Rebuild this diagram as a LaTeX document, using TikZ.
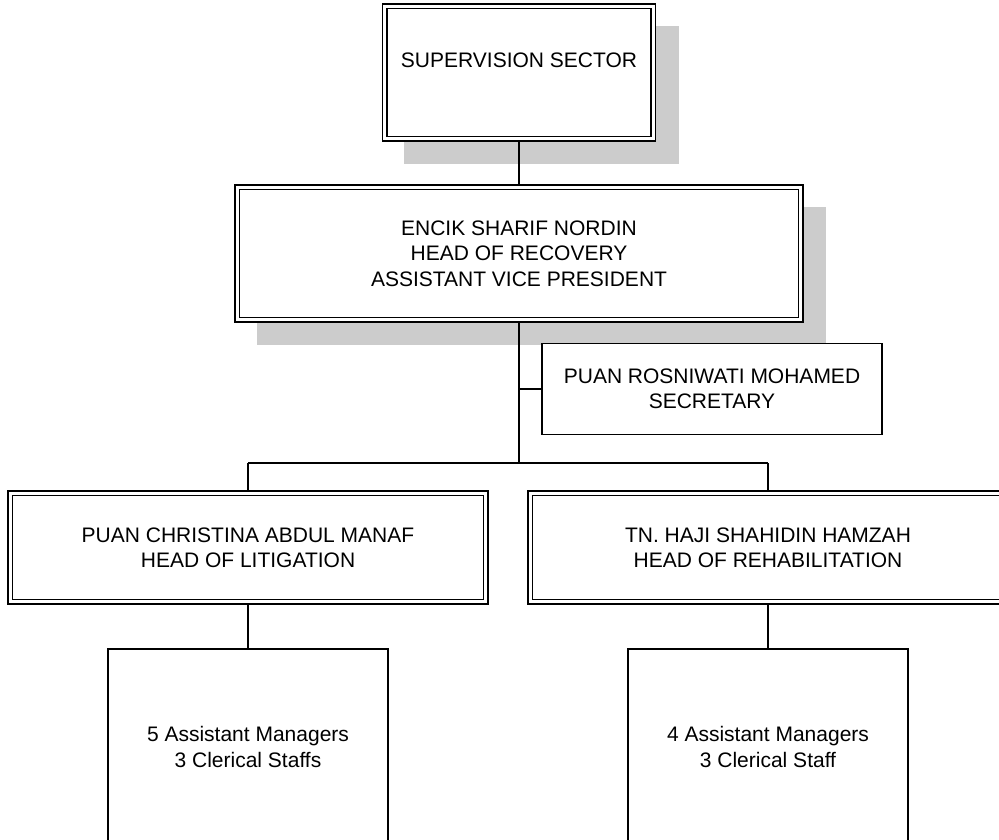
\documentclass[tikz,border=0pt]{standalone}
\usepackage{fontspec}
\setmainfont{Liberation Sans}
\usetikzlibrary{backgrounds}
\definecolor{shadowgray}{RGB}{204,204,204}
\begin{document}
\begin{tikzpicture}[x=1pt,y=-1pt,
  txt/.style={align=center, inner sep=0pt, font=\fontsize{21}{25.3}\selectfont},
  dbox/.style={txt, draw, fill=white, double, double distance=3pt, line width=1.5pt},
  sbox/.style={txt, draw, fill=white, line width=1.5pt},
  conn/.style={line width=1.6pt},
  shadowfill/.style={fill=shadowgray}]
\useasboundingbox (0,0) rectangle (999,840);

% boxes
\node[dbox, minimum width=268.6pt, minimum height=132.6pt] (sup) at (519,72.5)
  {SUPERVISION SECTOR\\ \mbox{}};
\node[dbox, minimum width=563.6pt, minimum height=132.6pt] (mid) at (519,253.5)
  {ENCIK SHARIF NORDIN\\HEAD OF RECOVERY\\ASSISTANT VICE PRESIDENT};
\node[sbox, minimum width=340pt, minimum height=91pt] (sec) at (712,389)
  {PUAN ROSNIWATI MOHAMED\\SECRETARY};
\node[dbox, minimum width=475.6pt, minimum height=108.6pt] (lit) at (248,547.5)
  {PUAN CHRISTINA ABDUL MANAF\\HEAD OF LITIGATION};
\node[dbox, minimum width=475.6pt, minimum height=108.6pt] (reh) at (768,547.5)
  {TN. HAJI SHAHIDIN HAMZAH\\HEAD OF REHABILITATION};
\node[sbox, minimum width=280pt, minimum height=196pt] (litstaff) at (248,747)
  {5 Assistant Managers\\3 Clerical Staffs};
\node[sbox, minimum width=280pt, minimum height=196pt] (rehstaff) at (768,747)
  {4 Assistant Managers\\3 Clerical Staff};

\coordinate (tee) at (519,463);
\coordinate (secj) at (519,389);
\coordinate (barL) at (248,463);
\coordinate (barR) at (768,463);

\begin{scope}[on background layer]
  % shadows
  \fill[shadowgray] ([shift={(20.3,20.3)}]sup.north west) rectangle ([shift={(24.7,24.7)}]sup.south east);
  \fill[shadowgray] ([shift={(20.3,20.3)}]mid.north west) rectangle ([shift={(24.7,24.7)}]mid.south east);
  % connectors
  \draw[conn] (sup.south) -- (mid.north);
  \draw[conn] (mid.south) -- (tee);
  \draw[conn] (secj) -- (sec.west);
  \draw[conn] (barL) -- (barR);
  \draw[conn] (barL) -- (lit.north);
  \draw[conn] (barR) -- (reh.north);
  \draw[conn] (lit.south) -- (litstaff.north);
  \draw[conn] (reh.south) -- (rehstaff.north);
\end{scope}
\end{tikzpicture}
\end{document}
